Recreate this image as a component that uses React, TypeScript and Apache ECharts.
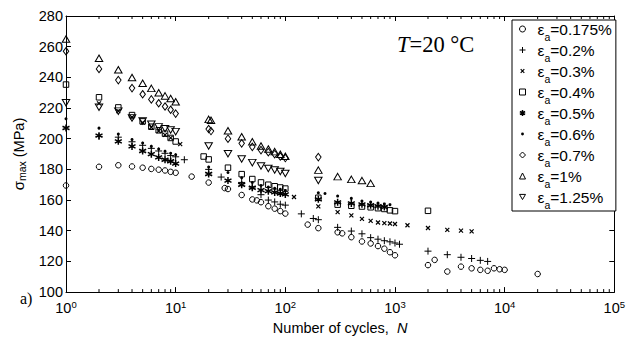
import React, { useEffect, useRef } from "react";
import * as echarts from "echarts";

// ---------- data (N = number of cycles, S = sigma_max in MPa) ----------
const STRAINS = ["0.175%", "0.2%", "0.3%", "0.4%", "0.5%", "0.6%", "0.7%", "1%", "1.25%"];

const N_0175 = [1, 2, 3, 4, 5, 6, 7, 8, 9, 10, 14, 20, 28, 30, 40, 50, 55, 60, 70, 80, 90, 100, 160, 200, 300, 330, 400, 500, 600, 700, 800, 900, 1000, 2000, 2300, 3000, 4000, 5000, 6000, 7000, 8000, 9000, 10000, 20000];
const S_0175 = [169.5, 181.7, 182.7, 181.9, 181.1, 180.3, 179.8, 179.3, 178.4, 177.8, 175.3, 171.4, 167.8, 167.2, 163.3, 160.4, 159.8, 158.6, 156, 154.4, 152.8, 151.2, 144, 141.7, 139, 138.3, 135.8, 133, 131.7, 130, 128.3, 126, 124, 117.6, 121, 113.4, 116.6, 115.5, 114.5, 113.9, 115.5, 114.9, 114.5, 111.8];

const N_02 = [2, 3, 4, 5, 6, 7, 8, 9, 10, 12, 20, 26, 40, 50, 60, 70, 80, 90, 100, 140, 180, 200, 300, 400, 500, 600, 700, 800, 900, 1000, 1100, 2000, 3000, 4000, 5000, 6000, 7000];
const S_02 = [201.5, 201, 198, 195.7, 193.7, 192, 190.5, 189, 188.2, 186.3, 180, 175, 171.5, 168.5, 163.5, 160, 158.8, 157.3, 156.7, 151, 148, 147.2, 142.2, 139.8, 138, 135.5, 134.5, 133.5, 132.8, 132, 131.2, 126.7, 124.4, 122.7, 121.9, 120.7, 120];

const N_03 = [2, 3, 4, 5, 6, 7, 8, 9, 11, 120, 200, 300, 400, 500, 600, 700, 800, 900, 1000, 1300, 2000, 3000, 4000, 5000];
const S_03 = [223, 218, 214, 210.5, 207.5, 205, 202.5, 200.5, 196.5, 162, 155.9, 152.1, 150, 147.7, 146.4, 145.4, 145, 144.7, 144.4, 143.6, 141.8, 140.6, 140.1, 139.6];

const N_04 = [1, 2, 3, 4, 5, 6, 7, 8, 9, 10, 18, 20, 30, 40, 50, 60, 70, 80, 90, 100, 200, 300, 400, 500, 600, 700, 800, 900, 1000, 2000];
const S_04 = [235.3, 227, 220.4, 215.4, 211.3, 207.8, 205.5, 203.3, 200.5, 198.2, 188.4, 186.5, 181.1, 176.9, 173.7, 171.5, 170, 169, 168.2, 167.5, 161.5, 157, 156.3, 155.8, 155.3, 154.7, 154.2, 153.3, 152.8, 153];

const N_05 = [1, 2, 3, 4, 5, 6, 7, 8, 9, 10, 20, 30, 40, 50, 60, 70, 80, 90, 100, 200, 300, 400, 500, 600, 700, 800];
const S_05 = [207, 202, 198.3, 195, 192, 189.9, 187.8, 186.3, 185.3, 183.8, 177, 172.7, 170, 168, 166.5, 165.8, 165, 164.3, 163.7, 160.5, 158.5, 157.8, 157.2, 156.6, 156, 155.5];

const N_06 = [1, 2, 3, 4, 5, 6, 7, 8, 9, 10, 20, 30, 40, 50, 60, 70, 80, 90, 100, 200, 230, 300, 400, 500, 600, 700, 800, 900];
const S_06 = [213, 206.9, 203, 199.5, 197.2, 195, 193.3, 191.8, 190.5, 189.5, 181.5, 178, 174.5, 171.5, 169.5, 168.5, 167.7, 167, 166.3, 164.7, 164.3, 162.6, 161.1, 159.4, 158.7, 158, 157.5, 157];

const N_07 = [1, 2, 3, 4, 5, 6, 7, 8, 9, 10, 20, 21, 30, 40, 50, 60, 70, 80, 90, 100, 200];
const S_07 = [257, 245.5, 238.2, 233, 229, 225.6, 223.1, 221, 218.9, 216.4, 206.3, 205, 200, 197, 194.7, 192.6, 191.2, 189.9, 188.4, 187.4, 188];

const N_1 = [1, 2, 3, 4, 5, 6, 7, 8, 9, 10, 20, 21, 30, 40, 50, 60, 70, 80, 90, 100, 200, 300, 400, 500, 600];
const S_1 = [265, 252.5, 245, 239.9, 236.2, 232.8, 230, 227.9, 226.2, 224.1, 212.6, 212, 205.2, 201.3, 198, 195.3, 193.3, 191.6, 189.9, 188.6, 179.5, 175.3, 173.5, 172.7, 170.9];

const N_125 = [1, 2, 3, 4, 5, 6, 7, 8, 9, 10, 20, 30, 40, 50, 60, 70, 80, 90, 100, 200];
const S_125 = [223.5, 220.5, 218, 213.6, 211.5, 209.4, 207.7, 206.5, 205.7, 204.6, 195.2, 190.2, 186.8, 184.4, 182.2, 180.6, 179.6, 178.6, 177.3, 172.8];

// axis ticks
const X_MIN = 1;
const X_MAX = 100000;
const Y_MIN = 100;
const Y_MAX = 280;
const Y_STEP = 20;
const DECADES = [1, 10, 100, 1000, 10000];
const MINOR_MULTS = [2, 3, 4, 5, 6, 7, 8, 9];

// ---------- styling ----------
const SANS = '"Liberation Sans", Arial, Helvetica, sans-serif';
const SERIF = '"Liberation Serif", "Times New Roman", serif';

const PLUS = "path://M5,0L5,10M0,5L10,5";
const CROSS = "path://M0,0L10,10M0,10L10,0";
const STAR = "path://M5,0L5,10M0.67,2.5L9.33,7.5M0.67,7.5L9.33,2.5";
const TRI_DOWN = "path://M0,0L10,0L5,8.66Z";
const CROSS_PAD = "path://M0,0M10,10M2,2L8,8M2,8L8,2";
const DOT_PAD = "path://M0,0M10,10M2.6,5A2.4,2.4 0 1 0 7.4,5A2.4,2.4 0 1 0 2.6,5Z";

type Def = {
  n: number[];
  s: number[];
  symbol: string;
  size: number | number[];
  fill: string;
  bw: number;
  icon: string;
};

const DEFS: Def[] = [
  { n: N_0175, s: S_0175, symbol: "circle", size: 5.5, fill: "none", bw: 1, icon: "circle" },
  { n: N_02, s: S_02, symbol: PLUS, size: 7, fill: "none", bw: 1, icon: PLUS },
  { n: N_03, s: S_03, symbol: CROSS, size: 4, fill: "none", bw: 1.2, icon: CROSS_PAD },
  { n: N_04, s: S_04, symbol: "rect", size: 5.5, fill: "none", bw: 1, icon: "rect" },
  { n: N_05, s: S_05, symbol: STAR, size: 7, fill: "none", bw: 1.5, icon: STAR },
  { n: N_06, s: S_06, symbol: "circle", size: 3, fill: "#000", bw: 0, icon: DOT_PAD },
  { n: N_07, s: S_07, symbol: "diamond", size: [5.5, 7.5], fill: "none", bw: 1, icon: "diamond" },
  { n: N_1, s: S_1, symbol: "triangle", size: [7.5, 6.5], fill: "none", bw: 1, icon: "triangle" },
  { n: N_125, s: S_125, symbol: TRI_DOWN, size: [7.5, 6.5], fill: "none", bw: 1, icon: TRI_DOWN },
];

const pairs = (n: number[], s: number[]) => n.map((v, i) => [v, s[i]]);

export default function App() {
  const ref = useRef<HTMLDivElement>(null);

  useEffect(() => {
    if (!ref.current) return;
    const chart = echarts.init(ref.current, null, { renderer: "svg" });

    const minorTicks: number[] = [];
    DECADES.forEach((d) => MINOR_MULTS.forEach((m) => minorTicks.push(d * m)));

    const scatter = DEFS.map((d, i) => ({
      type: "scatter",
      name: STRAINS[i],
      data: pairs(d.n, d.s),
      symbol: d.symbol,
      symbolSize: d.size,
      silent: true,
      emphasis: { disabled: true },
      itemStyle: {
        color: d.fill,
        borderColor: "#000",
        borderWidth: d.bw,
        opacity: 1,
      },
      z: 3,
    }));

    const axisLine = { show: true, lineStyle: { color: "#000", width: 1 } };

    const option: any = {
      animation: false,
      backgroundColor: "#fff",
      grid: { left: 66, right: 9, top: 16, bottom: 38 },
      xAxis: [
        {
          type: "log",
          logBase: 10,
          min: X_MIN,
          max: X_MAX,
          position: "bottom",
          axisLine,
          axisTick: { show: true, inside: true, length: 5, lineStyle: { color: "#000" } },
          splitLine: { show: false },
          axisLabel: {
            show: true,
            margin: 7,
            showMinLabel: true,
            showMaxLabel: true,
            formatter: (v: number) => `{b|10}{s|${Math.round(Math.log10(v))}}`,
            rich: {
              b: { fontFamily: SANS, fontSize: 14.5, lineHeight: 17, color: "#000" },
              s: { fontFamily: SANS, fontSize: 9.5, lineHeight: 10, color: "#000", verticalAlign: "top" },
            },
          },
          name: "{a|Number of cycles,  }{n|N}",
          nameLocation: "middle",
          nameGap: 24,
          nameTextStyle: {
            rich: {
              a: { fontFamily: SANS, fontSize: 14.5, color: "#000", lineHeight: 17 },
              n: { fontFamily: SANS, fontSize: 14.5, color: "#000", fontStyle: "italic", lineHeight: 17 },
            },
          },
        },
        {
          type: "log",
          logBase: 10,
          min: X_MIN,
          max: X_MAX,
          position: "top",
          axisLine,
          axisTick: { show: true, inside: true, length: 5, lineStyle: { color: "#000" } },
          splitLine: { show: false },
          axisLabel: { show: false },
        },
      ],
      yAxis: [
        {
          type: "value",
          min: Y_MIN,
          max: Y_MAX,
          interval: Y_STEP,
          position: "left",
          axisLine,
          axisTick: { show: true, inside: true, length: 5, lineStyle: { color: "#000" } },
          splitLine: { show: false },
          axisLabel: {
            margin: 3,
            color: "#000",
            fontFamily: SANS,
            fontSize: 14.5,
            showMinLabel: true,
            showMaxLabel: true,
          },
          name: "{g|σ}{sub|max}{t| (MPa)}",
          nameLocation: "middle",
          nameRotate: 90,
          nameGap: 36,
          nameTextStyle: {
            rich: {
              g: { fontFamily: SANS, fontSize: 15, color: "#000", lineHeight: 18 },
              sub: { fontFamily: SANS, fontSize: 10.5, color: "#000", lineHeight: 9, verticalAlign: "bottom" },
              t: { fontFamily: SANS, fontSize: 14.5, color: "#000", lineHeight: 18 },
            },
          },
        },
        {
          type: "value",
          min: Y_MIN,
          max: Y_MAX,
          interval: Y_STEP,
          position: "right",
          axisLine,
          axisTick: { show: true, inside: true, length: 5, lineStyle: { color: "#000" } },
          splitLine: { show: false },
          axisLabel: { show: false },
        },
      ],
      legend: {
        orient: "vertical",
        left: 512,
        top: 20,
        itemWidth: 6,
        itemHeight: 6,
        itemGap: 0,
        padding: [1, 4, 1, 5],
        backgroundColor: "#fff",
        borderColor: "#000",
        borderWidth: 1,
        borderRadius: 0,
        selectedMode: false,
        itemStyle: { borderWidth: "inherit" },
        data: STRAINS.map((n, i) => ({ name: n, icon: DEFS[i].icon })),
        formatter: (name: string) => `{e|ε}{s|a}{t|=${name}}`,
        textStyle: {
          color: "#000",
          fontFamily: SANS,
          fontSize: 15.5,
          rich: {
            e: { fontFamily: SANS, fontSize: 15.5, lineHeight: 26, color: "#000", padding: [0, 0, 0, 7] },
            s: { fontFamily: SANS, fontSize: 10.5, lineHeight: 10, color: "#000", verticalAlign: "bottom" },
            t: { fontFamily: SANS, fontSize: 15.5, lineHeight: 26, color: "#000" },
          },
        },
      },
      graphic: [
        {
          type: "text",
          left: 397,
          top: 33,
          style: {
            text: "{i|T}{r|=20 °C}",
            rich: {
              i: { fontFamily: SERIF, fontSize: 22.5, fontStyle: "italic", fill: "#000" },
              r: { fontFamily: SERIF, fontSize: 22.5, fill: "#000" },
            },
          },
        },
        {
          type: "text",
          left: 20,
          top: 290,
          style: { text: "a)", fontFamily: SERIF, fontSize: 16, fill: "#000" },
        },
      ],
      series: [
        ...scatter,
        {
          type: "custom",
          name: "minor",
          xAxisIndex: 0,
          yAxisIndex: 0,
          silent: true,
          clip: false,
          z: 5,
          data: minorTicks.map((v) => [v, Y_MIN]),
          renderItem: (params: any, api: any) => {
            const x = api.coord([api.value(0), Y_MIN])[0];
            const cs = params.coordSys;
            const top = cs.y;
            const bottom = cs.y + cs.height;
            return {
              type: "group",
              children: [
                { type: "line", shape: { x1: x, y1: bottom, x2: x, y2: bottom - 3 }, style: { stroke: "#000", lineWidth: 1 } },
                { type: "line", shape: { x1: x, y1: top, x2: x, y2: top + 3 }, style: { stroke: "#000", lineWidth: 1 } },
              ],
            };
          },
        },
      ],
    };

    chart.setOption(option);
    return () => chart.dispose();
  }, []);

  return <div ref={ref} style={{ position: "absolute", left: 0, top: 0, width: 628, height: 340 }} />;
}
